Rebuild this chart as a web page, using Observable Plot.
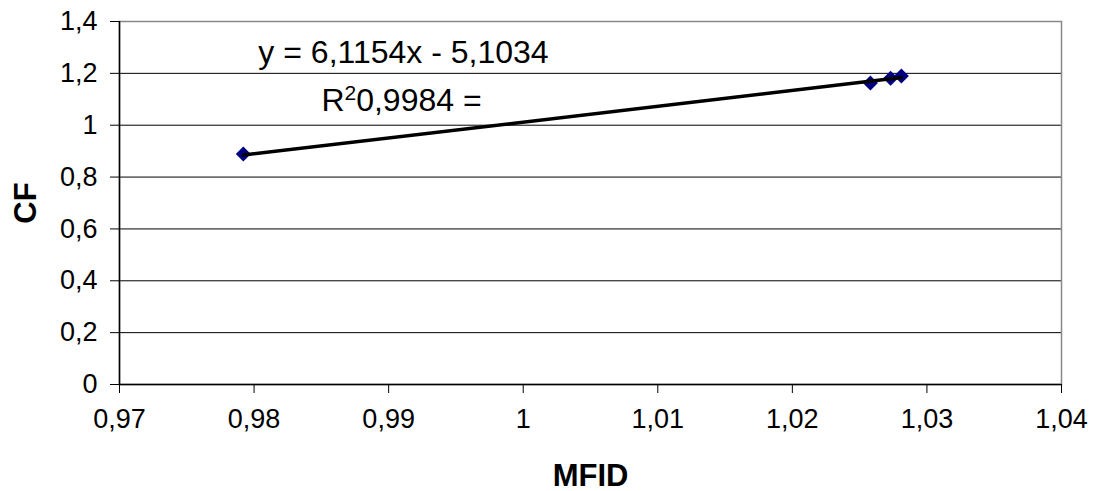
<!DOCTYPE html>
<html>
<head>
<meta charset="utf-8">
<script src="https://cdn.jsdelivr.net/npm/d3@7"></script>
<script src="https://cdn.jsdelivr.net/npm/@observablehq/plot@0.6"></script>
<style>
  html, body { margin: 0; padding: 0; background: #fff; }
  #chart { width: 1093px; height: 491px; }
</style>
</head>
<body>
<div id="chart"></div>
<script>
// Data
const mfid = [0.9792, 1.0258, 1.0273, 1.0281];
const cf = [0.889, 1.163, 1.181, 1.190];
const xTicks = [0.97, 0.98, 0.99, 1.00, 1.01, 1.02, 1.03, 1.04];
const yTicks = [0, 0.2, 0.4, 0.6, 0.8, 1.0, 1.2, 1.4];
const slope = 6.1154;
const intercept = -5.1034;
const equationText = "y = 6,1154x - 5,1034";
const r2Parts = ["R", "2", "0,9984 ="];
const xTitle = "MFID";
const yTitle = "CF";

const points = mfid.map((x, i) => ({x, y: cf[i]}));
const xMin = d3.min(mfid), xMax = d3.max(mfid);
const trend = [xMin, xMax].map(x => ({x, y: slope * x + intercept}));

const fmt = d => String(+d.toFixed(2)).replace(".", ",");

const diamond = {
  draw(ctx, size) {
    const r = Math.sqrt(size / Math.PI);
    ctx.moveTo(0, -r); ctx.lineTo(r, 0); ctx.lineTo(0, r); ctx.lineTo(-r, 0); ctx.closePath();
  }
};

const font = "'Liberation Sans', Arial, sans-serif";
const r2Joined = r2Parts.join("");

const chart = Plot.plot({
  width: 1093,
  height: 491,
  marginLeft: 119,
  marginRight: 32,
  marginTop: 21,
  marginBottom: 107,
  style: {fontFamily: font, fontSize: "27px", color: "#000", background: "#fff"},
  x: {domain: [0.97, 1.04], ticks: xTicks, tickFormat: fmt, label: null},
  y: {domain: [0, 1.4], ticks: yTicks, tickFormat: fmt, label: null},
  marks: [
    Plot.gridY(yTicks.filter(t => t > 0 && t < 1.4), {stroke: "#000", strokeOpacity: 1, strokeWidth: 1}),
    Plot.frame({stroke: "#888", strokeWidth: 1.5}),
    Plot.axisX({ticks: xTicks, tickFormat: fmt, tickSize: 9, tickPadding: 15, fontSize: 27, label: null}),
    Plot.axisY({ticks: yTicks, tickFormat: fmt, tickSize: 9, tickPadding: 13, fontSize: 27, label: null}),
    Plot.ruleY([0], {stroke: "#000", strokeWidth: 1.5}),
    Plot.ruleX([0.97], {stroke: "#000", strokeWidth: 1.5}),
    Plot.dot(points, {x: "x", y: "y", symbol: diamond, r: 7.5, fill: "#000080", stroke: "none"}),
    Plot.line(trend, {x: "x", y: "y", stroke: "#000", strokeWidth: 3.5}),
    Plot.text([equationText], {frameAnchor: "top-left", dx: 284, dy: 41, text: d => d, textAnchor: "middle", lineAnchor: "bottom", fontSize: 32, fill: "#000"}),
    Plot.text([r2Joined], {frameAnchor: "top-left", dx: 282, dy: 89, text: d => d, textAnchor: "middle", lineAnchor: "bottom", fontSize: 32, fill: "#000"}),
    Plot.text([xTitle], {frameAnchor: "bottom", dy: 101, text: d => d, textAnchor: "middle", lineAnchor: "bottom", fontSize: 31, fontWeight: "bold", fill: "#000"}),
    Plot.text([yTitle], {frameAnchor: "left", dx: -84, text: d => d, rotate: -90, textAnchor: "middle", lineAnchor: "bottom", fontSize: 31, fontWeight: "bold", fill: "#000"})
  ]
});

// Render the R² label with a true superscript
d3.select(chart).selectAll("text").filter(function () { return this.textContent === r2Joined; })
  .each(function () {
    const t = d3.select(this);
    t.text("");
    t.append("tspan").text(r2Parts[0]);
    t.append("tspan").attr("dy", -11).attr("font-size", 21).text(r2Parts[1]);
    t.append("tspan").attr("dy", 11).text(r2Parts[2]);
  });

document.getElementById("chart").appendChild(chart);
</script>
</body>
</html>
